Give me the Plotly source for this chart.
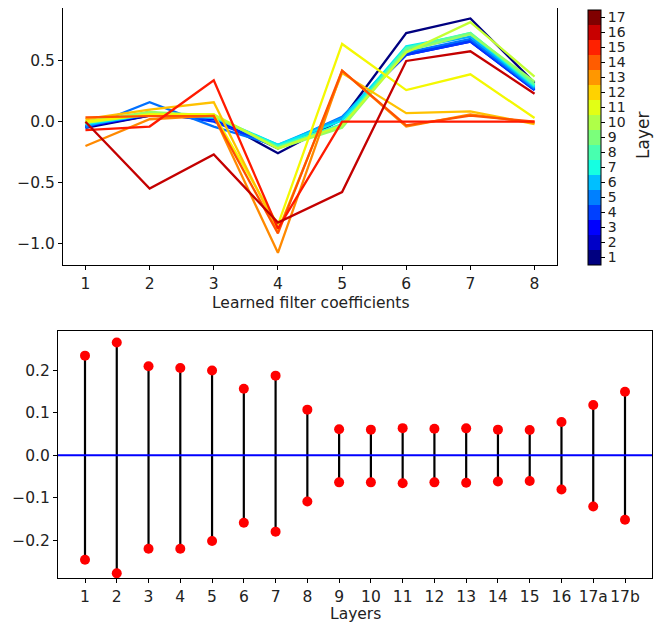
import plotly.graph_objects as go

# ---------------- data ----------------
coef_idx = [1, 2, 3, 4, 5, 6, 7, 8]
layer_ids = list(range(1, 18))
filters = {
    1:  [-0.05, 0.05, 0.03, -0.26, 0.02, 0.73, 0.85, 0.32],
    2:  [-0.04, 0.05, 0.03, -0.22, 0.03, 0.56, 0.67, 0.27],
    3:  [-0.04, 0.06, 0.02, -0.21, 0.03, 0.55, 0.66, 0.26],
    4:  [-0.04, 0.08, 0.00, -0.21, 0.03, 0.55, 0.66, 0.26],
    5:  [-0.05, 0.16, -0.04, -0.20, 0.04, 0.57, 0.68, 0.27],
    6:  [-0.03, 0.06, 0.03, -0.19, 0.03, 0.60, 0.70, 0.28],
    7:  [-0.02, 0.06, 0.04, -0.19, 0.01, 0.62, 0.72, 0.29],
    8:  [-0.01, 0.07, 0.04, -0.20, -0.02, 0.61, 0.73, 0.30],
    9:  [0.00, 0.07, 0.05, -0.21, -0.04, 0.60, 0.73, 0.31],
    10: [0.00, 0.08, 0.05, -0.22, -0.05, 0.58, 0.72, 0.33],
    11: [-0.01, 0.06, 0.06, -0.22, -0.03, 0.57, 0.82, 0.37],
    12: [0.00, 0.06, 0.06, -0.85, 0.64, 0.26, 0.39, 0.03],
    13: [0.02, 0.10, 0.16, -0.90, 0.40, 0.07, 0.085, -0.02],
    14: [-0.20, 0.02, 0.05, -1.08, 0.42, -0.04, 0.06, -0.01],
    15: [0.035, 0.045, 0.045, -0.92, 0.42, -0.03, 0.05, 0.00],
    16: [-0.07, -0.04, 0.34, -0.88, 0.00, 0.00, 0.00, 0.00],
    17: [0.00, -0.55, -0.27, -0.83, -0.58, 0.50, 0.58, 0.23],
}
n_layers = 17

layer_labels = ["1", "2", "3", "4", "5", "6", "7", "8", "9", "10", "11", "12",
                "13", "14", "15", "16", "17a", "17b"]
pos_vals = [0.234, 0.265, 0.209, 0.205, 0.199, 0.156, 0.187, 0.107, 0.061,
            0.060, 0.0635, 0.062, 0.063, 0.060, 0.059, 0.078, 0.118, 0.149]
neg_vals = [-0.246, -0.278, -0.220, -0.220, -0.202, -0.159, -0.180, -0.109, -0.064,
            -0.064, -0.066, -0.064, -0.065, -0.062, -0.061, -0.081, -0.121, -0.152]

y_top_ticks = [0.5, 0.0, -0.5, -1.0]
y_bot_ticks = [0.2, 0.1, 0.0, -0.1, -0.2]


# ---------------- jet colormap ----------------
def _interp(x, pts):
    for (x0, y0), (x1, y1) in zip(pts[:-1], pts[1:]):
        if x0 <= x <= x1:
            return y0 if x1 == x0 else y0 + (y1 - y0) * (x - x0) / (x1 - x0)
    return pts[-1][1]


def jet(v):
    r = _interp(v, [(0, 0), (0.35, 0), (0.66, 1), (0.89, 1), (1, 0.5)])
    g = _interp(v, [(0, 0), (0.125, 0), (0.375, 1), (0.64, 1), (0.91, 0), (1, 0)])
    b = _interp(v, [(0, 0.5), (0.11, 1), (0.34, 1), (0.65, 0), (1, 0)])
    return "rgb(%d,%d,%d)" % (round(r * 255), round(g * 255), round(b * 255))


line_colors = [jet(i / n_layers) for i in range(n_layers)]
bar_colors = [jet(i / (n_layers - 1)) for i in range(n_layers)]

# page body has an 8px margin: figure origin sits at (8, 8) in the window
OFF = 8
W, H = 663 - OFF, 623 - OFF
px = lambda x: (x - OFF) / W
py = lambda y: (H - (y - OFF)) / H

fig = go.Figure()
FONT = "DejaVu Sans"
FS = 15.5
TXT = "#222"

for lid in layer_ids:
    fig.add_trace(go.Scatter(
        x=coef_idx, y=filters[lid], mode="lines",
        line=dict(color=line_colors[lid - 1], width=2.3),
        xaxis="x", yaxis="y", showlegend=False, hoverinfo="skip"))

# discrete colorbar
cs = []
for i in range(n_layers):
    cs.append([i / n_layers, bar_colors[i]])
    cs.append([(i + 1) / n_layers, bar_colors[i]])
fig.add_trace(go.Scatter(
    x=[None], y=[None], mode="markers", xaxis="x", yaxis="y", showlegend=False,
    marker=dict(color=[1], colorscale=cs, cmin=0.5, cmax=n_layers + 0.5, showscale=True,
                colorbar=dict(
                    x=px(588), xanchor="left", xref="paper", xpad=0, ypad=0,
                    y=py(137.5), yanchor="middle",
                    len=255 / H, lenmode="fraction", thickness=13,
                    outlinecolor="black", outlinewidth=1,
                    tickvals=list(range(1, n_layers + 1)),
                    ticktext=[str(i) for i in range(1, n_layers + 1)],
                    ticks="outside", ticklen=4, tickcolor="black",
                    tickfont=dict(family=FONT, size=14, color=TXT),
                ))))

# bottom stem plot
xi = list(range(len(layer_labels)))
sx, sy = [], []
for i, p, n in zip(xi, pos_vals, neg_vals):
    sx += [i, i, None]
    sy += [n, p, None]
fig.add_trace(go.Scatter(x=sx, y=sy, mode="lines", line=dict(color="black", width=2.2),
                         xaxis="x2", yaxis="y2", showlegend=False, hoverinfo="skip"))
fig.add_trace(go.Scatter(x=xi + xi, y=pos_vals + neg_vals, mode="markers",
                         marker=dict(color="red", size=10),
                         xaxis="x2", yaxis="y2", showlegend=False))

axis_common = dict(showline=True, mirror=True, linecolor="black", linewidth=1,
                   ticks="outside", ticklen=4, tickcolor="black", showgrid=False,
                   zeroline=False, tickfont=dict(family=FONT, size=FS, color=TXT))

fmt = lambda v: ("\u2212" if v < 0 else "") + "%.1f" % abs(v)

fig.update_layout(
    width=W, height=H,
    margin=dict(l=0, r=0, t=0, b=0),
    paper_bgcolor="white", plot_bgcolor="white",
    xaxis=dict(domain=[px(63), px(557)], anchor="y", range=[0.65, 8.35],
               tickvals=coef_idx, ticktext=[str(v) for v in coef_idx], **axis_common),
    yaxis=dict(domain=[py(265), py(8)], anchor="x",
               range=[-1.18, 0.936], tickvals=y_top_ticks,
               ticktext=[fmt(v) for v in y_top_ticks], **axis_common),
    xaxis2=dict(domain=[px(58), px(652)], anchor="y2", range=[-0.85, 17.85],
                tickvals=xi, ticktext=layer_labels, **axis_common),
    yaxis2=dict(domain=[py(578), py(331)], anchor="x2",
                range=[-0.289, 0.292], tickvals=y_bot_ticks,
                ticktext=[fmt(v) for v in y_bot_ticks], **axis_common),
    shapes=[dict(type="line", xref="x2 domain", yref="y2", x0=0, x1=1, y0=0, y1=0,
                 line=dict(color="blue", width=2), layer="above")],
    annotations=[
        dict(text="Learned filter coefficients", x=px(310), y=py(303),
             xref="paper", yref="paper", showarrow=False, xanchor="center", yanchor="middle",
             font=dict(family=FONT, size=FS, color=TXT)),
        dict(text="Layers", x=px(355), y=py(614),
             xref="paper", yref="paper", showarrow=False, xanchor="center", yanchor="middle",
             font=dict(family=FONT, size=FS, color=TXT)),
        dict(text="Layer", x=px(643), y=py(136), textangle=-90,
             xref="paper", yref="paper", showarrow=False, xanchor="center", yanchor="middle",
             font=dict(family=FONT, size=17, color=TXT)),
    ],
)

fig.write_html("out.html")
